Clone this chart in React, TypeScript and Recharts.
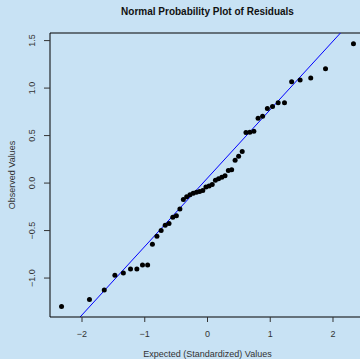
import { ReferenceLine, Scatter, ScatterChart, XAxis, YAxis } from 'recharts'

// expected normal quantiles (n = 50) and sorted residuals
const expectedValues = [
  -2.326, -1.881, -1.645, -1.476, -1.341, -1.227, -1.126, -1.036, -0.954, -0.878,
  -0.806, -0.739, -0.674, -0.613, -0.553, -0.496, -0.44, -0.385, -0.332, -0.279,
  -0.228, -0.176, -0.126, -0.075, -0.025, 0.025, 0.075, 0.126, 0.176, 0.228,
  0.279, 0.332, 0.385, 0.44, 0.496, 0.553, 0.613, 0.674, 0.739, 0.806,
  0.878, 0.954, 1.036, 1.126, 1.227, 1.341, 1.476, 1.645, 1.881, 2.326,
]
const observedValues = [
  -1.3, -1.225, -1.126, -0.97, -0.946, -0.904, -0.904, -0.862, -0.862, -0.645,
  -0.56, -0.5, -0.443, -0.425, -0.36, -0.345, -0.272, -0.173, -0.143, -0.123,
  -0.106, -0.097, -0.09, -0.077, -0.042, -0.031, -0.016, 0.03, 0.045, 0.062,
  0.076, 0.133, 0.141, 0.24, 0.282, 0.333, 0.533, 0.535, 0.545, 0.683,
  0.704, 0.786, 0.807, 0.845, 0.845, 1.067, 1.085, 1.106, 1.204, 1.468,
]
const xTicks = [-2, -1, 0, 1, 2]
const yTicks = [-1, -0.5, 0, 0.5, 1, 1.5]
const xDomain = [-2.51, 2.51]
const yDomain = [-1.41, 1.58]
const lineIntercept = 0.053
const lineSlope = 0.7206

const points = expectedValues.map((x, i) => ({ x, y: observedValues[i] }))

const font = '"Liberation Sans", Arial, sans-serif'
const bg = '#c8e2f4'

const fmt = (v: number, digits: number) =>
  v < 0 ? `\u2212${Math.abs(v).toFixed(digits)}` : v.toFixed(digits)

function YTick({ x, y, payload }: any) {
  const cx = x - 11.5
  return (
    <text
      x={cx}
      y={y}
      transform={`rotate(-90 ${cx} ${y})`}
      textAnchor="middle"
      dominantBaseline="central"
      fontSize={9}
      fontFamily={font}
      fill="#333"
    >
      {fmt(payload.value, 1)}
    </text>
  )
}

function XTick({ x, y, payload }: any) {
  return (
    <text x={x} y={y + 12} textAnchor="middle" dominantBaseline="central" fontSize={9} fontFamily={font} fill="#333">
      {fmt(payload.value, 0)}
    </text>
  )
}

const Dot = (props: any) => <circle cx={props.cx} cy={props.cy} r={2.5} fill="#000" />

export default function App() {
  return (
    <div
      style={{
        position: 'absolute',
        left: 0,
        top: 0,
        width: 360,
        height: 359,
        overflow: 'hidden',
        background: bg,
        fontFamily: font,
      }}
    >
      <div
        style={{
          position: 'absolute',
          left: 0,
          width: 415,
          top: 6,
          textAlign: 'center',
          fontSize: 10,
          fontWeight: 700,
          color: '#111',
        }}
      >
        Normal Probability Plot of Residuals
      </div>

      <ScatterChart width={370} height={359} margin={{ top: 33, right: 5, bottom: 0, left: 0 }}>
        <XAxis
          type="number"
          dataKey="x"
          domain={xDomain}
          ticks={xTicks}
          allowDataOverflow
          height={42}
          tickSize={5}
          tickMargin={0}
          tick={<XTick />}
          axisLine={{ stroke: '#000' }}
          tickLine={{ stroke: '#333' }}
        />
        <YAxis
          type="number"
          dataKey="y"
          domain={yDomain}
          ticks={yTicks}
          allowDataOverflow
          width={50}
          tickSize={6}
          tickMargin={0}
          tick={<YTick />}
          axisLine={{ stroke: '#000' }}
          tickLine={{ stroke: '#333' }}
        />
        <ReferenceLine y={yDomain[1]} stroke="#000" />
        <ReferenceLine
          segment={[
            { x: xDomain[0], y: lineIntercept + lineSlope * xDomain[0] },
            { x: xDomain[1], y: lineIntercept + lineSlope * xDomain[1] },
          ]}
          ifOverflow="hidden"
          stroke="#0000ff"
          strokeWidth={1}
        />
        <Scatter data={points} shape={<Dot />} isAnimationActive={false} />
      </ScatterChart>

      <div
        style={{
          position: 'absolute',
          left: 12,
          top: 175,
          transform: 'translate(-50%, -50%) rotate(-90deg)',
          fontSize: 9,
          color: '#333',
          whiteSpace: 'nowrap',
        }}
      >
        Observed Values
      </div>
      <div
        style={{
          position: 'absolute',
          left: 0,
          width: 415,
          top: 349,
          textAlign: 'center',
          fontSize: 9,
          color: '#333',
          whiteSpace: 'nowrap',
        }}
      >
        Expected (Standardized) Values
      </div>
    </div>
  )
}
